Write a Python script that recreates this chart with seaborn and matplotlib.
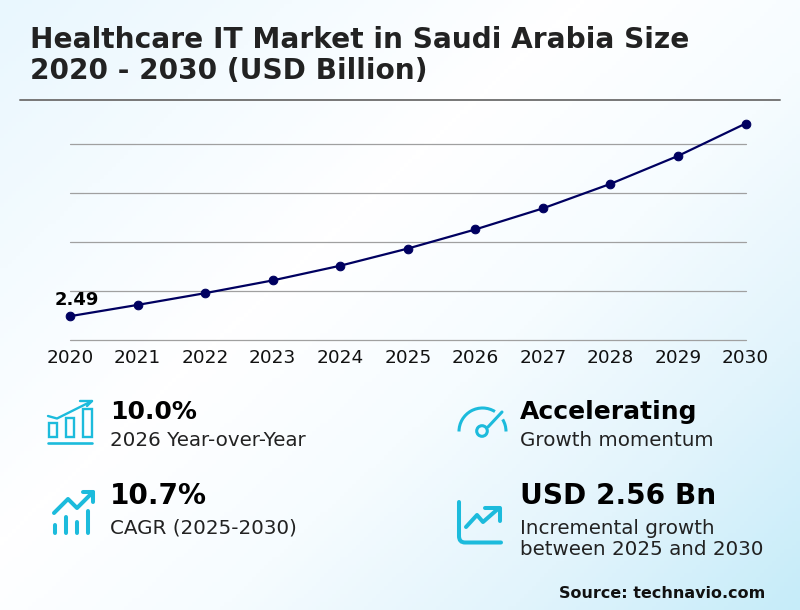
import numpy as np
import pandas as pd
import matplotlib
matplotlib.use("Agg")
import matplotlib.pyplot as plt
from matplotlib.colors import LinearSegmentedColormap
from matplotlib.patches import Arc, Circle, PathPatch, Rectangle
from matplotlib.path import Path
import seaborn as sns

years = [2020, 2021, 2022, 2023, 2024, 2025, 2026, 2027, 2028, 2029, 2030]
market_size = [2.49, 2.72, 2.96, 3.22, 3.52, 3.87, 4.26, 4.69, 5.19, 5.76, 6.42]
grid_values = [2, 3, 4, 5, 6]

title_text = "Healthcare IT Market in Saudi Arabia Size\n2020 - 2030 (USD Billion)"
source_text = "Source: technavio.com"
ICON = "#1cbbdc"
NAVY = "#000060"

sns.set_theme(style="white")
plt.rcParams["font.family"] = ["DejaVu Sans"]
W, H = 800, 610
fig = plt.figure(figsize=(W / 100, H / 100), dpi=100)

# background gradient, pale blue corner and white middle
bg = fig.add_axes([0, 0, 1, 1], zorder=0)
xx, yy = np.meshgrid(np.linspace(0, 1, 200), np.linspace(0, 1, 150))
t = 0.55 * xx + 0.45 * yy
cmap = LinearSegmentedColormap.from_list("bg", [(0, "#e9f7fe"), (0.2, "#f4fbff"), (0.4, "#ffffff"),
                                                (0.6, "#f6fcff"), (0.8, "#e2f4fc"), (1, "#c6ecf9")])
bg.imshow(t, cmap=cmap, vmin=0, vmax=1, aspect="auto", extent=[0, W, H, 0])
bg.set_xlim(0, W)
bg.set_ylim(H, 0)
bg.axis("off")

# main chart
ax = fig.add_axes([70 / W, 1 - 340.2 / H, 675.5 / W, 196 / H], zorder=1)
ax.patch.set_alpha(0)
df = pd.DataFrame({"year": years, "size": market_size})
sns.lineplot(data=df, x="year", y="size", ax=ax, color=NAVY, linewidth=1.6, marker="o",
             markersize=6.2, markeredgecolor=NAVY, clip_on=False, zorder=5)
ax.set_xlim(2020, 2030)
ax.set_ylim(2, 6)
ax.set_yticks(grid_values)
ax.set_yticklabels([])
ax.set_xticks(years)
ax.set_xticklabels([str(y) for y in years], fontsize=13.3, color="#111111")
ax.tick_params(axis="x", length=0, pad=6.5)
ax.tick_params(axis="y", length=0)
ax.grid(axis="y", color="#a0a0a0", linewidth=0.9, clip_on=False)
ax.set_axisbelow(True)
ax.set_xlabel("")
ax.set_ylabel("")
sns.despine(ax=ax, left=True, bottom=True, top=True, right=True)
ax.annotate(f"{market_size[0]:.2f}", (years[0], market_size[0]), xytext=(5, 5), textcoords="offset points",
            ha="center", va="bottom", fontsize=13, fontweight="bold", color="#000000")

# overlay in pixel coordinates for title, kpi text and icons
ov = fig.add_axes([0, 0, 1, 1], zorder=2)
ov.set_xlim(0, W)
ov.set_ylim(H, 0)
ov.axis("off")

ov.text(30, 55.5, title_text, fontsize=20.15, fontweight="bold", color="#222222", va="center", ha="left", linespacing=1.12)
ov.plot([20, 780], [100, 100], color="#777777", linewidth=1.4)

kpis = [
    (110, 412, "10.0%", 18, 440, "2026 Year-over-Year"),
    (110, 496, "10.7%", 20.2, 528, "CAGR (2025-2030)"),
    (520, 412, "Accelerating", 18, 440, "Growth momentum"),
    (520, 496, "USD 2.56 Bn", 20.2, 539, "Incremental growth\nbetween 2025 and 2030"),
]
for x, y1, big, big_size, y2, small in kpis:
    ov.text(x, y1, big, fontsize=big_size, fontweight="bold", color="#000000", va="center", ha="left")
    ov.text(x, y2, small, fontsize=14.35, color="#222222", va="center", ha="left", linespacing=1.15)
ov.text(765, 594, source_text, fontsize=11.5, fontweight="bold", color="#111111", va="center", ha="right")

# icon 1, bars with arrow
lw = 1.7
for x0, top, x1 in [(48.5, 423, 57), (66, 418, 74), (83, 409, 91.5)]:
    ov.add_patch(Rectangle((x0, top), x1 - x0, 437 - top, fill=False, edgecolor=ICON, linewidth=lw))
ov.plot([48, 92], [443, 443], color=ICON, linewidth=lw + 0.2)
ov.plot([48, 57, 92], [416, 418.5, 401], color=ICON, linewidth=lw)
ov.plot([80, 92, 87], [401, 401, 406], color=ICON, linewidth=lw)

# icon 2, trend line above small bars
ov.plot([54, 68, 77, 93], [513, 499, 508, 492], color=ICON, linewidth=2.9, solid_capstyle="round",
        solid_joinstyle="round")
ov.plot([83, 93, 93], [492, 492, 502], color=ICON, linewidth=2.9, solid_capstyle="round")
for x0, y0 in [(55, 525), (66, 517), (77, 522), (88, 511)]:
    ov.plot([x0, x0], [y0, 533], color=ICON, linewidth=2.9, solid_capstyle="round")

# icon 3, gauge with a gap around the needle
ov.add_patch(Arc((482.5, 431.5), 47, 47, theta1=180, theta2=302, color=ICON, linewidth=2.2))
ov.add_patch(Arc((482.5, 431.5), 47, 47, theta1=329, theta2=360, color=ICON, linewidth=2.2))
ov.add_patch(Circle((482, 431), 5.3, fill=False, edgecolor=ICON, linewidth=2.2))
ov.plot([488, 502], [427, 412], color=ICON, linewidth=2.2, solid_capstyle="round")

# icon 4, chart with arrow
corner = Path([(459, 502), (459, 536), (459, 542.5), (465, 542.5), (501, 542.5)],
              [Path.MOVETO, Path.LINETO, Path.CURVE3, Path.CURVE3, Path.LINETO])
ov.add_patch(PathPatch(corner, fill=False, edgecolor=ICON, linewidth=2.9, capstyle="round"))
ov.plot([466, 477, 483, 499], [527, 515, 522, 508], color=ICON, linewidth=2.9, solid_capstyle="round",
        solid_joinstyle="round")
ov.plot([485, 500, 500], [508, 508, 521], color=ICON, linewidth=2.9, solid_capstyle="round")

fig.savefig("out.png", dpi=100)
